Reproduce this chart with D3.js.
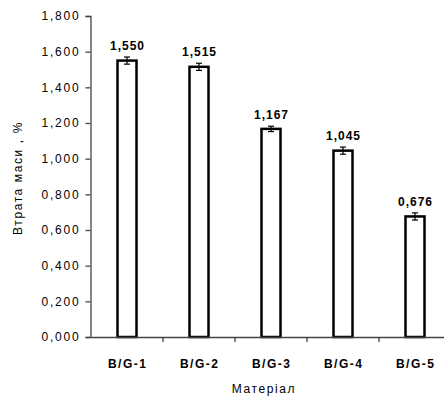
<!DOCTYPE html>
<html>
<head>
<meta charset="utf-8">
<script src="https://cdn.jsdelivr.net/npm/d3@7"></script>
<style>
  body { margin: 0; background: #fff; }
  svg text { font-family: "Liberation Sans", Arial, sans-serif; fill: #000; }
</style>
</head>
<body>
<div id="chart"></div>
<script>
const categories = ["B/G-1", "B/G-2", "B/G-3", "B/G-4", "B/G-5"];
const values = [1.550, 1.515, 1.167, 1.045, 0.676];
const errors = [0.020, 0.020, 0.015, 0.020, 0.020];
const yTicks = [0, 0.2, 0.4, 0.6, 0.8, 1.0, 1.2, 1.4, 1.6, 1.8];

const width = 444;
const height = 399;
const padLeft = 91;
const padRight = 451;
const padTop = 16;
const padBottom = 337;

const fmt = d => d3.format(".3f")(d).replace(".", ",");

const svg = d3.select("#chart")
  .append("svg")
  .attr("width", width)
  .attr("height", height);

const xScale = d3.scaleBand()
  .domain(categories)
  .range([padLeft, padRight]);

const yScale = d3.scaleLinear()
  .domain([0, 1.8])
  .range([padBottom, padTop]);

// y axis
const yAxis = d3.axisLeft(yScale)
  .tickValues(yTicks)
  .tickSize(5)
  .tickFormat(fmt);
const gy = svg.append("g")
  .attr("transform", `translate(${padLeft - 0.5}, 0)`)
  .call(yAxis);
gy.select(".domain").attr("stroke", "#444").attr("stroke-width", 1.3);
gy.selectAll(".tick line").attr("stroke", "#444").attr("stroke-width", 1.3);
gy.selectAll(".tick text")
  .attr("x", -10)
  .style("font-size", "12px")
  .style("letter-spacing", "1.8px")
  .attr("fill", "#000");

// bars
const barW = 19;
svg.selectAll("rect.bar")
  .data(values)
  .enter()
  .append("rect")
  .attr("class", "bar")
  .attr("x", (d, i) => xScale(categories[i]) + xScale.bandwidth() / 2 - barW / 2)
  .attr("y", d => yScale(d))
  .attr("width", barW)
  .attr("height", d => padBottom - yScale(d))
  .attr("fill", "#fff")
  .attr("stroke", "#000")
  .attr("stroke-width", 2.5);

// error bars
const eb = svg.selectAll("g.err")
  .data(values)
  .enter()
  .append("g")
  .attr("class", "err")
  .attr("stroke", "#000")
  .attr("stroke-width", 1.2);
eb.append("line")
  .attr("x1", (d, i) => xScale(categories[i]) + xScale.bandwidth() / 2)
  .attr("x2", (d, i) => xScale(categories[i]) + xScale.bandwidth() / 2)
  .attr("y1", (d, i) => yScale(d + errors[i]))
  .attr("y2", (d, i) => yScale(d - errors[i]));
[1, -1].forEach(s => {
  eb.append("line")
    .attr("x1", (d, i) => xScale(categories[i]) + xScale.bandwidth() / 2 - 3)
    .attr("x2", (d, i) => xScale(categories[i]) + xScale.bandwidth() / 2 + 3)
    .attr("y1", (d, i) => yScale(d + s * errors[i]))
    .attr("y2", (d, i) => yScale(d + s * errors[i]));
});

// value labels
svg.selectAll("text.val")
  .data(values)
  .enter()
  .append("text")
  .attr("class", "val")
  .attr("x", (d, i) => xScale(categories[i]) + xScale.bandwidth() / 2 + 0.5)
  .attr("y", (d, i) => yScale(d + errors[i]) - 7)
  .attr("text-anchor", "middle")
  .style("font-size", "12px")
  .style("font-weight", "bold")
  .style("letter-spacing", "1px")
  .text(d => fmt(d));

// x axis
const xAxis = d3.axisBottom(xScale).tickSize(0).tickFormat(d => d);
const gx = svg.append("g")
  .attr("transform", `translate(0, ${padBottom})`)
  .call(xAxis);
gx.select(".domain").attr("stroke", "#444").attr("stroke-width", 1.3);
gx.selectAll(".tick text")
  .attr("y", 22)
  .attr("dx", "0.7px")
  .style("font-size", "12px")
  .style("font-weight", "bold")
  .style("letter-spacing", "1.5px");

// separator ticks between categories
svg.selectAll("line.sep")
  .data(categories.slice(0, -1))
  .enter()
  .append("line")
  .attr("class", "sep")
  .attr("x1", d => xScale(d) + xScale.bandwidth())
  .attr("x2", d => xScale(d) + xScale.bandwidth())
  .attr("y1", padBottom)
  .attr("y2", padBottom + 5)
  .attr("stroke", "#444")
  .attr("stroke-width", 1.3);

// axis titles
svg.append("text")
  .attr("x", 264)
  .attr("y", 393)
  .attr("text-anchor", "middle")
  .style("font-size", "12px")
  .style("letter-spacing", "1.6px")
  .text("Матеріал");

svg.append("text")
  .attr("transform", `translate(22, 178) rotate(-90)`)
  .attr("text-anchor", "middle")
  .style("font-size", "12px")
  .style("letter-spacing", "1.6px")
  .text("Втрата маси , %");
</script>
</body>
</html>
